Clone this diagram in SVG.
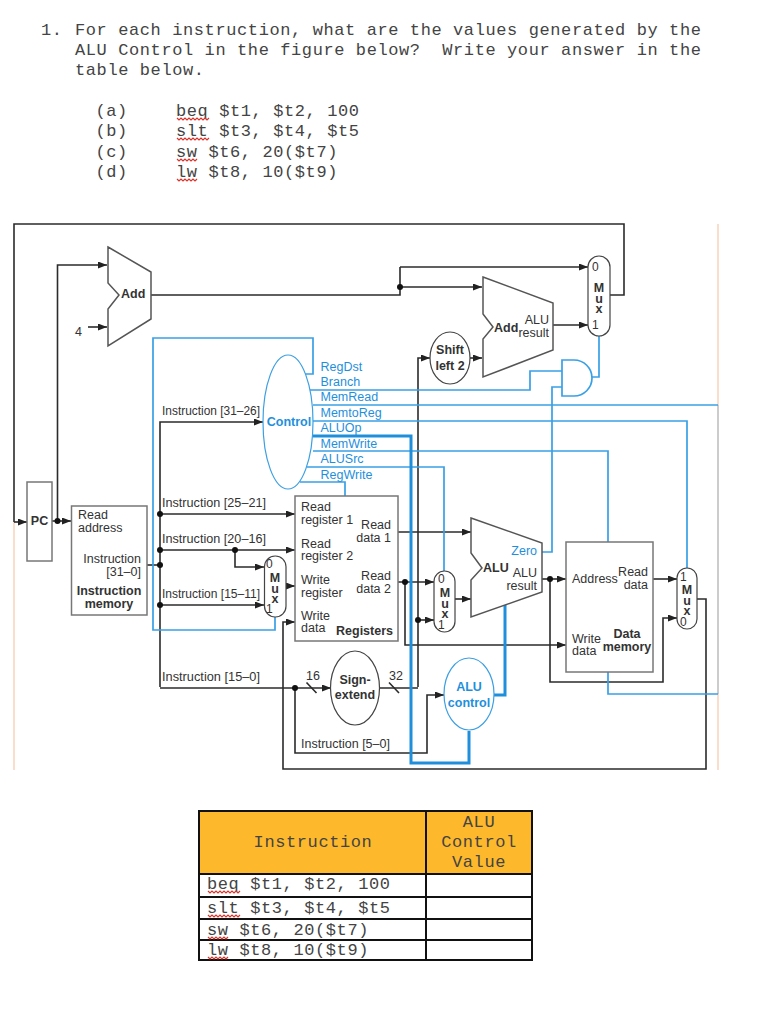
<svg xmlns="http://www.w3.org/2000/svg" width="765" height="1024" viewBox="0 0 765 1024">
<style>
text{font-family:"Liberation Sans",Arial,sans-serif;font-size:12.5px;fill:#333}
.m{font-family:"Liberation Mono","Courier New",monospace;font-size:17px;letter-spacing:.6px;fill:#444}
.c{text-anchor:middle}
.r{text-anchor:end}
.b{font-weight:bold}
.bl{fill:#1f8fdc}
.mx{font-size:12px}
.mb{font-size:12.5px;font-weight:bold;text-anchor:middle;writing-mode:vertical-rl;text-orientation:upright;letter-spacing:-3.5px}
.sh{fill:#fff;stroke:#555;stroke-width:1.5}
.box{fill:#fff;stroke:#777;stroke-width:1.5}
.ov{fill:#fff;stroke:#444;stroke-width:1.2}
.ovb{fill:#fff;stroke:#3c9fe2;stroke-width:1.2}
.k{fill:none;stroke:#2b2b2b;stroke-width:1.6}
.a{fill:none;stroke:#2b2b2b;stroke-width:1.6;marker-end:url(#ah)}
.u{fill:none;stroke:#38a0e6;stroke-width:1.7}
.ut{fill:none;stroke:#1f8fdc;stroke-width:3}
.sq{fill:none;stroke:#d8342c;stroke-width:1.2}
.g{fill:none;stroke:#111;stroke-width:2}
</style>
<defs>
<marker id="ah" markerUnits="userSpaceOnUse" markerWidth="10" markerHeight="8" refX="9" refY="3.5" orient="auto"><path d="M0 0L9 3.5L0 7z" fill="#222"/></marker>
<path id="sq1" d="M0 0l2 2 2-2 2 2 2-2 2 2 2-2 2 2 2-2 2 2 2-2 2 2 2-2 2 2 2-2 2 2 2-2" class="sq"/>
<path id="sq2" d="M0 0l2 2 2-2 2 2 2-2 2 2 2-2 2 2 2-2 2 2 2-2" class="sq"/>
</defs>
<rect width="765" height="1024" fill="#fff"/>

<g id="question">
<text class="m" x="41" y="35">1.</text>
<text class="m" x="75" y="35">For each instruction, what are the values generated by the</text>
<text class="m" x="75" y="55" xml:space="preserve">ALU Control in the figure below?  Write your answer in the</text>
<text class="m" x="75" y="75">table below.</text>
<text class="m" x="95.500" y="116">(a)</text><text class="m" x="176" y="116">beq $t1, $t2, 100</text><use href="#sq1" x="177" y="118"/>
<text class="m" x="95.500" y="136">(b)</text><text class="m" x="176" y="136">slt $t3, $t4, $t5</text><use href="#sq1" x="177" y="138"/>
<text class="m" x="95.500" y="157">(c)</text><text class="m" x="176" y="157">sw $t6, 20($t7)</text><use href="#sq2" x="177" y="159"/>
<text class="m" x="95.500" y="177">(d)</text><text class="m" x="176" y="177">lw $t8, 10($t9)</text><use href="#sq2" x="177" y="179"/>
</g>

<g id="frame">
<path d="M718 224V405M718 694V770M14 522V770" fill="none" stroke="#f8cdb0" stroke-width="1.3"/>
<path d="M718 405V694" fill="none" stroke="#bbb" stroke-width="1.5"/>
</g>

<g id="connectors">
<path class="k" d="M610 295H624V224H14V522"/>
<path class="a" d="M14 522H27"/>
<path class="a" d="M52 521H71"/>
<path class="a" d="M57.500 521V265H107"/>
<path class="a" d="M88 327H107"/>
<path class="k" d="M151 295H400V267"/>
<path class="a" d="M400 267H588"/>
<path class="a" d="M400 287H482"/>
<path class="a" d="M553 325H588"/>
<path class="a" d="M470 358H482"/>
<path class="a" d="M418 687V358H430"/>
<path class="k" d="M147 565H160"/>
<path class="a" d="M160 687V422H263"/>
<path class="a" d="M160 514H295"/>
<path class="a" d="M160 550H295"/>
<path class="a" d="M235 550V567H264"/>
<path class="a" d="M160 605H264"/>
<path class="a" d="M286 586H295"/>
<path class="a" d="M160 688H331"/>
<path class="k" d="M379 688H418"/>
<path class="a" d="M418 620H434"/>
<path class="k" d="M306.500 682.500L316.500 693M389 682.500L399 693"/>
<path class="a" d="M295 688V753H427V695H444"/>
<path class="a" d="M398 532H471"/>
<path class="a" d="M398 582H434"/>
<path class="a" d="M405 582V645H566"/>
<path class="a" d="M455 599H471"/>
<path class="a" d="M542 579H566"/>
<path class="a" d="M550 579V682H663V618H677"/>
<path class="a" d="M653 579H677"/>
<path class="a" d="M697 599H706V769H283V622H295"/>
<path class="u" d="M305 374H313V338H153V630H275V617"/>
<path class="u" d="M310 390H530V371H562"/>
<path class="u" d="M313 405H718"/>
<path class="u" d="M313 421H687V568"/>
<path class="u" d="M313 451H608V542"/>
<path class="u" d="M307 467H444V571"/>
<path class="u" d="M300 482H345V496"/>
<path class="u" d="M608 672V694H718"/>
<path class="u" d="M542 552H552V387H562"/>
<path class="u" d="M592 377H599V336"/>
<path class="ut" d="M313 436H411V763H469V731"/>
<path class="ut" d="M494 695H505V605"/>
<g fill="#111"><circle cx="57.500" cy="521" r="3"/><circle cx="400" cy="287" r="3"/><circle cx="160" cy="514" r="3"/><circle cx="160" cy="550" r="3"/><circle cx="160" cy="565" r="3"/><circle cx="160" cy="605" r="3"/><circle cx="235" cy="550" r="3"/><circle cx="295" cy="688" r="3"/><circle cx="405" cy="582" r="3"/><circle cx="418" cy="620" r="3"/><circle cx="550" cy="579" r="3"/></g>
</g>

<g id="add-pc">
<path class="sh" d="M108 247L151 272V319L108 346V309L119 295L108 283Z"/>
<text class="b" x="121" y="298">Add</text>
<text x="75" y="336" font-size="13">4</text>
</g>
<g id="add-branch">
<path class="sh" d="M483 277L553 303V350L483 377V339L493 327L483 314Z"/>
<text class="b" x="494" y="332">Add</text>
<text class="r" x="549" y="324">ALU</text>
<text class="r" x="549" y="337">result</text>
</g>
<g id="shift-left-2">
<ellipse class="ov" cx="450" cy="358" rx="20" ry="26"/>
<text class="c b" x="450" y="354">Shift</text><text class="c b" x="450" y="370">left 2</text>
</g>
<g id="and-gate">
<path d="M562 360H574A18 18 0 0 1 574 396H562Z" fill="#fff" stroke="#38a0e6" stroke-width="1.7"/>
</g>
<g id="mux-pc">
<rect class="ov" x="588" y="256" width="22" height="80" rx="11"/>
<text class="mx" x="592" y="271">0</text><text class="mx" x="592" y="329">1</text>
<text class="mb" x="599" y="297">Mux</text>
</g>
<g id="control">
<ellipse class="ovb" cx="288" cy="422" rx="25" ry="67"/>
<text class="c b bl" x="289" y="426">Control</text>
<text class="bl" x="320.500" y="371">RegDst</text>
<text class="bl" x="320.500" y="386">Branch</text>
<text class="bl" x="320.500" y="401">MemRead</text>
<text class="bl" x="320.500" y="417">MemtoReg</text>
<text class="bl" x="320.500" y="432">ALUOp</text>
<text class="bl" x="320.500" y="448">MemWrite</text>
<text class="bl" x="320.500" y="463">ALUSrc</text>
<text class="bl" x="320.500" y="479">RegWrite</text>
</g>
<g id="pc">
<rect class="box" x="27" y="482" width="25" height="79"/>
<text class="c b" x="39.500" y="525">PC</text>
</g>
<g id="instruction-memory">
<rect class="box" x="71.500" y="506" width="75.500" height="109"/>
<text x="78" y="519">Read</text><text x="78" y="532">address</text>
<text class="r" x="141" y="563">Instruction</text><text class="r" x="141" y="576">[31–0]</text>
<text class="c b" x="109" y="595">Instruction</text><text class="c b" x="109" y="608">memory</text>
</g>
<g id="instruction-labels">
<text x="162" y="415" textLength="98" lengthAdjust="spacingAndGlyphs">Instruction [31–26]</text>
<text x="162" y="507" textLength="104" lengthAdjust="spacingAndGlyphs">Instruction [25–21]</text>
<text x="162" y="543" textLength="104" lengthAdjust="spacingAndGlyphs">Instruction [20–16]</text>
<text x="162" y="598" textLength="98" lengthAdjust="spacingAndGlyphs">Instruction [15–11]</text>
<text x="162" y="681" textLength="98" lengthAdjust="spacingAndGlyphs">Instruction [15–0]</text>
<text x="301" y="748">Instruction [5–0]</text>
<text x="306" y="680">16</text><text x="389" y="680">32</text>
</g>
<g id="mux-regdst">
<rect class="ov" x="264.500" y="556" width="21.500" height="61" rx="10.700"/>
<text class="mx" x="266" y="568">0</text><text class="mx" x="266" y="613">1</text>
<text class="mb" x="275" y="587">Mux</text>
</g>
<g id="registers">
<rect class="box" x="295" y="496" width="103" height="145"/>
<text x="301" y="511">Read</text><text x="301" y="524">register 1</text>
<text x="301" y="548">Read</text><text x="301" y="560">register 2</text>
<text x="301" y="584">Write</text><text x="301" y="597">register</text>
<text x="301" y="620">Write</text><text x="301" y="632">data</text>
<text class="r" x="391" y="529">Read</text><text class="r" x="391" y="542">data 1</text>
<text class="r" x="391" y="580">Read</text><text class="r" x="391" y="593">data 2</text>
<text class="r b" x="393" y="635">Registers</text>
</g>
<g id="sign-extend">
<ellipse class="ov" cx="355" cy="688" rx="24.500" ry="37"/>
<text class="c b" x="355" y="684">Sign-</text><text class="c b" x="355" y="699">extend</text>
</g>
<g id="mux-alusrc">
<rect class="ov" x="434" y="571" width="21" height="61" rx="10.500"/>
<text class="mx" x="438" y="583">0</text><text class="mx" x="438" y="629">1</text>
<text class="mb" x="445" y="602">Mux</text>
</g>
<g id="alu">
<path class="sh" d="M471 518L542 543V592L471 617V580L482 568L471 553Z"/>
<text class="b" x="483" y="572">ALU</text>
<text class="r bl" x="537" y="555">Zero</text>
<text class="r" x="537" y="577">ALU</text><text class="r" x="537" y="590">result</text>
</g>
<g id="alu-control">
<ellipse class="ovb" cx="469" cy="694" rx="25" ry="36"/>
<text class="c b bl" x="469" y="691">ALU</text><text class="c b bl" x="469" y="707">control</text>
</g>
<g id="data-memory">
<rect class="box" x="566" y="542" width="87" height="130"/>
<text x="572" y="583">Address</text>
<text class="r" x="648" y="576">Read</text><text class="r" x="648" y="589">data</text>
<text x="572" y="643">Write</text><text x="572" y="655">data</text>
<text class="c b" x="627" y="638">Data</text><text class="c b" x="627" y="651">memory</text>
</g>
<g id="mux-memtoreg">
<rect class="ov" x="677" y="568" width="20" height="61" rx="10"/>
<text class="mx" x="680" y="581">1</text><text class="mx" x="680" y="626">0</text>
<text class="mb" x="687" y="599">Mux</text>
</g>

<g id="answer-table">
<rect x="199" y="811" width="333" height="63" fill="#fdb92b"/>
<rect x="199" y="874" width="333" height="86" fill="#fff"/>
<path class="g" d="M199 811H532V960H199ZM426 811V960M199 874H532M199 897H532M199 919H532M199 940H532"/>
<text class="m c" x="313" y="847">Instruction</text>
<text class="m c" x="479" y="827">ALU</text><text class="m c" x="479" y="847">Control</text><text class="m c" x="479" y="867">Value</text>
<text class="m" x="207" y="889">beq $t1, $t2, 100</text><use href="#sq1" x="208" y="891"/>
<text class="m" x="207" y="913">slt $t3, $t4, $t5</text><use href="#sq1" x="208" y="915"/>
<text class="m" x="207" y="935">sw $t6, 20($t7)</text><use href="#sq2" x="208" y="937"/>
<text class="m" x="207" y="955">lw $t8, 10($t9)</text><use href="#sq2" x="208" y="957"/>
</g>
</svg>
